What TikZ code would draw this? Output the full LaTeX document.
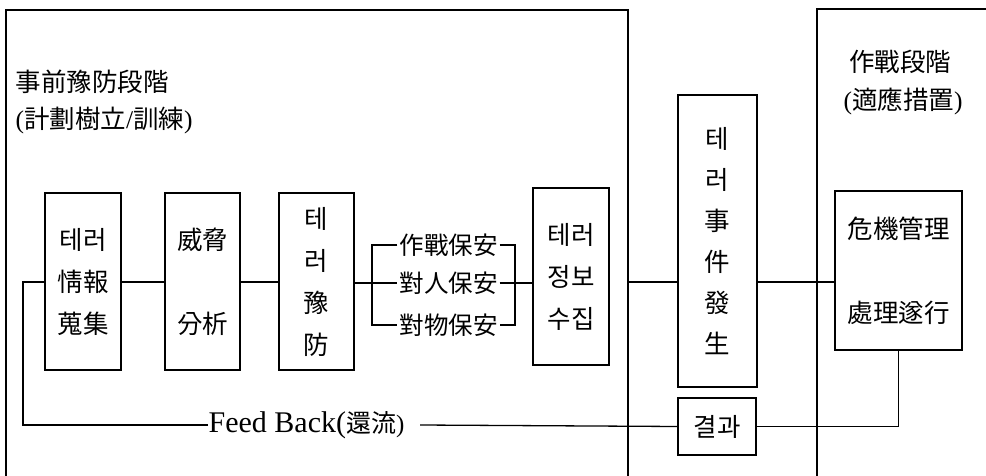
\documentclass[tikz,border=0pt]{standalone}
\usepackage{fontspec}
\setmainfont{Liberation Serif}
\newfontfamily\cjk{Noto Sans CJK KR}
\newcommand\cjkbox{\cjk\fontsize{25.5}{42}\selectfont}
\newcommand\cjktall{\cjk\fontsize{25.5}{41}\selectfont}
\newcommand\lp{{\normalfont(}}
\newcommand\rp{{\normalfont)}}
\begin{document}
\begin{tikzpicture}[x=1pt,y=-1pt,line width=1.3pt,
  box/.style={draw,inner sep=0pt,font=\cjkbox,align=center},
  lbl/.style={inner xsep=1.5pt,inner ysep=0pt,font=\cjk\fontsize{24.5}{42}\selectfont},
  ttl/.style={inner sep=0pt,font=\cjkbox},
  fbtext/.style={inner sep=0pt,font=\fontsize{30}{32}\selectfont}]
\useasboundingbox (0,0) rectangle (986,476);
% stage frames
\draw (6,476) -- (6,10) -- (628,10) -- (628,476);
\draw (817,476) -- (817,9) -- (990,9);
% titles
\node[ttl,anchor=west] (tA) at (15,82) {事前豫防段階};
\node[ttl,anchor=west] (tB) at (15,121) {\lp 計劃樹立{\normalfont/}訓練\rp};
\node[ttl] (tC) at (900,62) {作戰段階};
\node[ttl] (tD) at (903,102) {\lp 適應措置\rp};
% boxes
\node[box,minimum width=76pt,minimum height=177pt] (n1) at (83,281.5) {테러\\情報\\蒐集};
\node[box,minimum width=75pt,minimum height=177pt] (n2) at (202.5,281.5) {威脅\\[42pt]分析};
\node[box,minimum width=75pt,minimum height=177pt] (n3) at (316.5,281.5) {테\\러\\豫\\防};
\node[box,minimum width=76pt,minimum height=177pt] (n4) at (571,276.5) {테러\\정보\\수집};
\node[box,font=\cjktall,minimum width=79pt,minimum height=292pt] (n5) at (717.5,241) {테\\러\\事\\件\\發\\生};
\node[box,minimum width=78pt,minimum height=57pt] (n6) at (717,426.5) {결과};
\node[box,minimum width=127pt,minimum height=159pt] (n7) at (898.5,270.5) {危機管理\\[42pt]處理遂行};
% security branches
\node[lbl] (t1) at (448.5,245) {作戰保安};
\node[lbl] (t2) at (448.5,283) {對人保安};
\node[lbl] (t3) at (448.5,325) {對物保安};
\coordinate (bl) at (372,283);
\coordinate (br) at (515,283);
\coordinate (mainy) at (23,282);
\coordinate (edgeL) at (628,282);
% connectors
\draw (n1.east |- mainy) -- (n2.west |- mainy);
\draw (n2.east |- mainy) -- (n3.west |- mainy);
\draw (n3.east |- t2) -- (t2.west);
\draw (t1.west) -- (t1.west -| bl) -- (t3.west -| bl) -- (t3.west);
\draw (t1.east) -- (t1.east -| br) -- (t3.east -| br) -- (t3.east);
\draw (t2.east) -- (n4.west |- t2);
\draw (edgeL) -- (n5.west |- edgeL);
\draw (n5.east |- edgeL) -- (n7.west |- edgeL);
\draw (n7.south) |- (n6.east);
% feedback
\node[fbtext,anchor=west] (fb) at (208,425) {Feed Back(\cjk\fontsize{25}{32}\selectfont 還流\normalfont)};
\draw (n6.west) -- ([xshift=15pt]fb.east);
\draw (fb.west) -| (mainy) -- (n1.west |- mainy);
\end{tikzpicture}
\end{document}
